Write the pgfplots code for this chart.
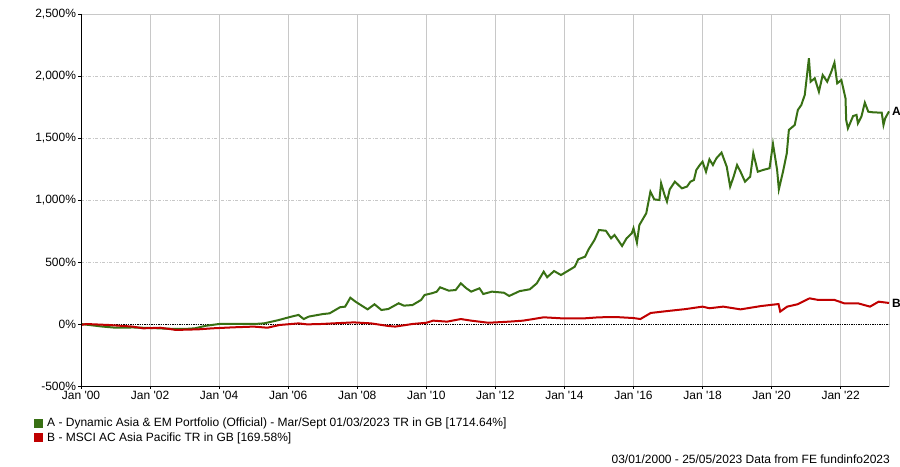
\documentclass[border=0pt]{standalone}
\usepackage{fontspec}
\setmainfont{Liberation Sans}
\usepackage{pgfplots}
\pgfplotsset{compat=1.18}
\definecolor{serA}{RGB}{56,112,20}
\definecolor{serB}{RGB}{192,0,0}
\definecolor{gridc}{RGB}{200,200,200}
\begin{document}
\begin{tikzpicture}
\path[use as bounding box] (0,0) rectangle (900bp,467bp);
\begin{axis}[
  at={(81bp,81bp)}, anchor=south west,
  scale only axis, width=808bp, height=372bp,
  xmin=2000, xmax=2023.4, ymin=-500, ymax=2500,
  xtick={2000,2002,...,2022},
  xticklabels={Jan \textquotesingle 00,Jan \textquotesingle 02,Jan \textquotesingle 04,Jan \textquotesingle 06,Jan \textquotesingle 08,Jan \textquotesingle 10,Jan \textquotesingle 12,Jan \textquotesingle 14,Jan \textquotesingle 16,Jan \textquotesingle 18,Jan \textquotesingle 20,Jan \textquotesingle 22},
  ytick={-500,0,500,1000,1500,2000,2500},
  yticklabel={\pgfmathprintnumber{\tick}\%},
  /pgf/number format/1000 sep={,},
  /pgf/number format/assume math mode=true,
  xtick pos=bottom, ytick pos=left,
  tick align=outside, major tick length=3bp,
  tick style={black, line width=0.8bp},
  grid=major,
  major x grid style={gridc, line width=0.9bp},
  major y grid style={gridc, line width=0.8bp, dash pattern=on 3bp off 1.5bp on 1bp off 1.5bp},
  axis line style={gridc, line width=0.9bp},
  tick label style={font=\fontsize{12bp}{14bp}\selectfont},
  xticklabel style={yshift=1.5bp},
  yticklabel style={xshift=1.5bp},
  clip=false,
  legend style={at={(0,0)}, anchor=north west, xshift=-47bp, yshift=-30bp,
    draw=none, fill=none, inner sep=0pt, row sep=0bp,
    font=\fontsize{12bp}{14bp}\selectfont, cells={anchor=west},
    nodes={inner xsep=4bp}},
  legend image code/.code={\fill[#1,draw=none] (0bp,-4.5bp) rectangle (9bp,4.5bp);},
]
\addplot[black, line width=0.8bp, dash pattern=on 2bp off 1bp on 1bp off 1bp on 1bp off 1bp, forget plot] coordinates {(2000,0) (2023.4,0)};
\addplot[serA, line width=2bp] coordinates {
(2000.0,0) (2000.3,-10) (2000.6,-20) (2001.0,-30) (2001.5,-28) (2002.0,-32) (2002.5,-38) (2003.0,-40) (2003.3,-35) (2003.6,-15)
(2004.0,0) (2004.5,2) (2005.0,0) (2005.3,5) (2005.7,30) (2006.1,60) (2006.3,73) (2006.45,40) (2006.6,60) (2007.0,80)
(2007.2,86) (2007.5,135) (2007.65,140) (2007.8,212) (2007.95,180) (2008.3,118) (2008.5,159) (2008.7,113) (2008.9,121) (2009.2,167)
(2009.35,148) (2009.6,153) (2009.85,194) (2009.95,234) (2010.15,247) (2010.3,260) (2010.4,296) (2010.65,269) (2010.85,274) (2011.0,328)
(2011.15,290) (2011.3,261) (2011.54,288) (2011.65,242) (2011.9,261) (2012.25,252) (2012.4,226) (2012.7,265) (2013.0,280) (2013.2,328)
(2013.4,422) (2013.5,377) (2013.7,427) (2013.9,395) (2014.3,462) (2014.4,522) (2014.6,543) (2014.7,602) (2014.87,677) (2015.0,758)
(2015.2,752) (2015.35,691) (2015.45,718) (2015.67,629) (2015.8,691) (2015.95,731) (2016.0,772) (2016.1,656) (2016.17,798) (2016.37,893)
(2016.49,1067) (2016.6,1005) (2016.75,1000) (2016.8,1135) (2016.9,1040) (2016.97,987) (2017.05,1086) (2017.2,1148) (2017.4,1094) (2017.55,1108)
(2017.65,1148) (2017.75,1161) (2017.82,1242) (2017.92,1282) (2018.0,1309) (2018.1,1228) (2018.2,1328) (2018.3,1282) (2018.4,1336) (2018.55,1382)
(2018.7,1269) (2018.8,1108) (2018.9,1188) (2019.0,1282) (2019.1,1228) (2019.23,1148) (2019.38,1188) (2019.47,1377) (2019.6,1228) (2019.75,1242)
(2019.94,1256) (2020.04,1452) (2020.16,1242) (2020.21,1086) (2020.33,1228) (2020.44,1377) (2020.5,1565) (2020.67,1605) (2020.76,1726) (2020.86,1766)
(2020.96,1847) (2021.02,1994) (2021.08,2143) (2021.13,1954) (2021.25,1982) (2021.37,1873) (2021.48,2008) (2021.61,1954) (2021.73,2035) (2021.82,2108)
(2021.9,1941) (2022.02,1968) (2022.14,1820) (2022.16,1645) (2022.21,1578) (2022.36,1677) (2022.46,1686) (2022.5,1618) (2022.6,1672) (2022.7,1785)
(2022.8,1712) (2022.94,1707) (2023.19,1704) (2023.24,1605) (2023.29,1659) (2023.4,1714.64)
};
\addlegendentry{A - Dynamic Asia \& EM Portfolio (Official) - Mar/Sept 01/03/2023 TR in GB [1714.64\%]}
\addplot[serB, line width=2bp] coordinates {
(2000.0,-8) (2000.15,0) (2000.8,-8) (2001.5,-21) (2001.8,-35) (2002.3,-30) (2002.75,-48) (2003.4,-43) (2003.8,-35) (2004.4,-27)
(2005.0,-21) (2005.4,-30) (2005.75,-8) (2006.3,5) (2006.55,-3) (2006.95,0) (2007.3,5) (2007.9,13) (2008.4,5) (2008.9,-16)
(2009.1,-21) (2009.6,0) (2010.0,10) (2010.2,27) (2010.6,19) (2011.0,40) (2011.3,27) (2011.8,10) (2012.4,19) (2012.8,27)
(2013.1,40) (2013.4,54) (2013.9,46) (2014.6,46) (2015.0,54) (2015.5,56) (2016.0,48) (2016.2,40) (2016.5,89) (2017.0,105)
(2017.5,120) (2018.0,140) (2018.2,127) (2018.6,140) (2019.1,118) (2019.7,145) (2020.2,161) (2020.25,100) (2020.45,140) (2020.75,159)
(2021.1,207) (2021.35,194) (2021.82,194) (2022.1,167) (2022.5,167) (2022.85,140) (2023.1,180) (2023.4,169.58)
};
\addlegendentry{B - MSCI AC Asia Pacific TR in GB [169.58\%]}
\draw[black, line width=0.9bp] (rel axis cs:0,1) -- (rel axis cs:0,0) -- (rel axis cs:1,0);
\node[anchor=west, inner sep=0pt, xshift=3bp, font=\bfseries\fontsize{12bp}{14bp}\selectfont] at (axis cs:2023.4,1714.64) {A};
\node[anchor=west, inner sep=0pt, xshift=3bp, font=\bfseries\fontsize{12bp}{14bp}\selectfont] at (axis cs:2023.4,169.58) {B};
\end{axis}
\node[anchor=base east, inner sep=0pt, font=\fontsize{12bp}{14bp}\selectfont] at (890bp,4bp) {03/01/2000 - 25/05/2023 Data from FE fundinfo2023};
\end{tikzpicture}
\end{document}
